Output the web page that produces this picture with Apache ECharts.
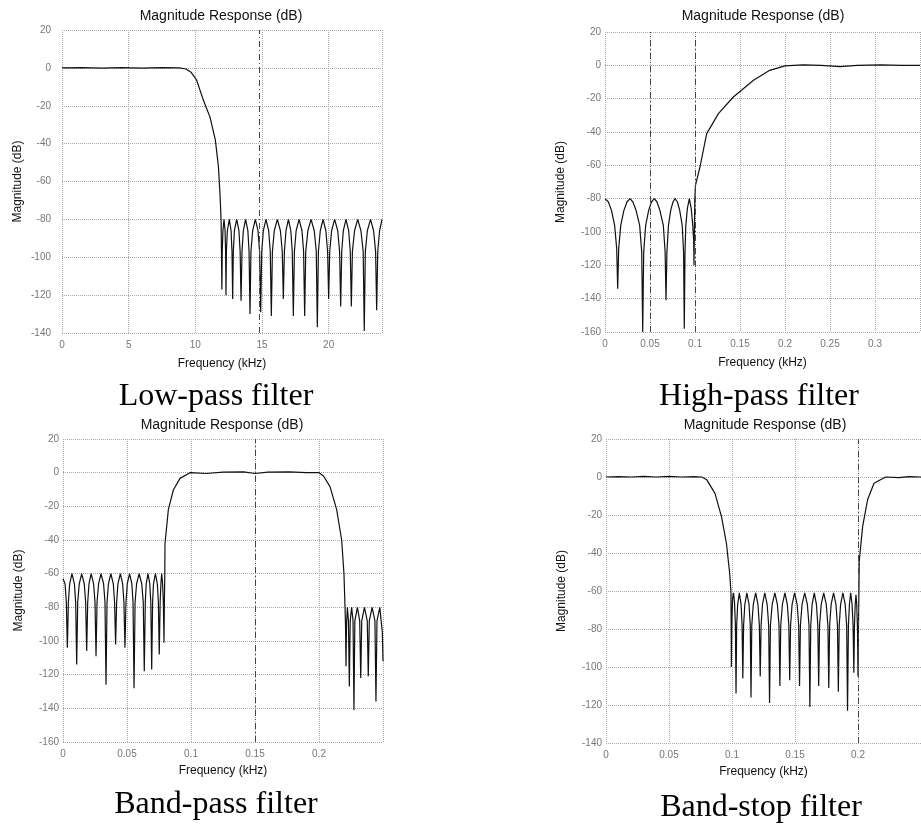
<!DOCTYPE html>
<html>
<head>
<meta charset="utf-8">
<title>Filter magnitude responses</title>
<script src="https://cdn.jsdelivr.net/npm/echarts@6/dist/echarts.min.js"></script>
<style>
  html, body { margin: 0; padding: 0; background: #fff; }
  #chart { width: 921px; height: 824px; }
</style>
</head>
<body>
<div id="chart"></div>
<script>
// Magnitude responses: [frequency (kHz), magnitude (dB)]
const lowPass = [
  [0,0],[1.5,0.1],[3,-0.1],[4.5,0.1],[6,-0.1],[7.5,0.1],[8.8,0],[9.3,-0.6],[9.7,-2.5],[10.1,-6.5],
  [10.6,-17],[11.1,-26],[11.5,-38],[11.73,-52],[11.86,-68],[11.93,-80],[11.96,-97],[11.99,-117],
  [12.02,-97],[12.07,-86],[12.15,-80],[12.23,-86],[12.27,-97],[12.3,-120],[12.33,-97],[12.4,-86],
  [12.55,-80],[12.68,-86],[12.75,-97],[12.8,-122],[12.85,-97],[12.93,-86],[13.1,-80],[13.27,-86],
  [13.36,-97],[13.43,-123],[13.5,-97],[13.6,-86],[13.77,-80],[13.94,-86],[14.03,-97],[14.1,-130],
  [14.17,-97],[14.3,-86],[14.5,-80],[14.7,-86],[14.82,-97],[14.9,-129],[14.98,-97],[15.1,-86],
  [15.3,-80],[15.5,-86],[15.62,-97],[15.7,-131],[15.78,-97],[15.92,-86],[16.15,-80],[16.38,-86],
  [16.52,-97],[16.6,-122],[16.68,-97],[16.8,-86],[16.98,-80],[17.16,-86],[17.27,-97],[17.35,-131],
  [17.43,-97],[17.56,-86],[17.78,-80],[18.0,-86],[18.12,-97],[18.2,-131],[18.28,-97],[18.44,-86],
  [18.68,-80],[18.92,-86],[19.07,-97],[19.15,-137],[19.23,-97],[19.37,-86],[19.58,-80],[19.79,-86],
  [19.92,-97],[20.0,-122],[20.08,-97],[20.22,-86],[20.45,-80],[20.68,-86],[20.82,-97],[20.9,-126],
  [20.98,-97],[21.1,-86],[21.3,-80],[21.5,-86],[21.62,-97],[21.7,-126],[21.78,-97],[21.94,-86],
  [22.18,-80],[22.42,-86],[22.59,-97],[22.67,-139],[22.75,-97],[22.9,-86],[23.14,-80],[23.37,-86],
  [23.52,-97],[23.6,-128],[23.68,-97],[23.82,-86],[24,-80]
];

const highPass = [
  [0,-80],[0.0038,-82],[0.0072,-87],[0.0107,-96],[0.013,-110],[0.0141,-134],[0.0152,-110],
  [0.0175,-96],[0.021,-87],[0.0244,-82],[0.0278,-80],[0.031,-82],[0.0345,-87],[0.0385,-96],
  [0.0408,-112],[0.0419,-160],[0.043,-112],[0.0452,-96],[0.0485,-87],[0.0516,-82],[0.0548,-80],
  [0.0578,-82],[0.061,-87],[0.0648,-96],[0.0668,-112],[0.0678,-141],[0.0688,-112],[0.0705,-96],
  [0.073,-87],[0.0755,-82],[0.0778,-80],[0.0805,-82],[0.083,-87],[0.0858,-96],[0.0873,-112],
  [0.0881,-158],[0.0889,-112],[0.0898,-96],[0.0915,-86],[0.0937,-80],[0.0958,-86],[0.0975,-96],
  [0.0985,-105],[0.0989,-120],[0.0993,-100],[0.0998,-80],[0.1005,-72],[0.1055,-61],[0.113,-41],
  [0.126,-29],[0.1426,-19],[0.165,-9],[0.183,-3],[0.2,-0.3],[0.22,0.3],[0.24,0],[0.261,-0.8],
  [0.28,0],[0.306,0.3],[0.33,0],[0.35,0]
];

const bandPass = [
  [0,-63],[0.0016,-66],[0.0026,-77],[0.0034,-104],[0.0042,-77],[0.0052,-66],[0.007,-60],
  [0.0089,-66],[0.0099,-77],[0.0107,-114],[0.0115,-77],[0.0127,-66],[0.0146,-60],[0.0166,-66],
  [0.0177,-77],[0.0185,-106],[0.0193,-77],[0.0203,-66],[0.022,-60],[0.0239,-66],[0.025,-77],
  [0.0258,-109],[0.0266,-77],[0.0278,-66],[0.0297,-60],[0.0317,-66],[0.0328,-77],[0.0336,-126],
  [0.0344,-77],[0.0355,-66],[0.0374,-60],[0.0393,-66],[0.0403,-77],[0.0411,-102],[0.0419,-77],
  [0.0429,-66],[0.0448,-60],[0.0466,-66],[0.0476,-77],[0.0484,-104],[0.0492,-77],[0.0502,-66],
  [0.052,-60],[0.0538,-66],[0.0547,-77],[0.0555,-128],[0.0563,-77],[0.0575,-66],[0.0595,-60],
  [0.0615,-66],[0.0627,-77],[0.0635,-118],[0.0643,-77],[0.065,-66],[0.0664,-60],[0.0678,-66],
  [0.0686,-77],[0.0693,-117],[0.07,-77],[0.0707,-66],[0.0722,-60],[0.0737,-66],[0.0745,-77],
  [0.0752,-108],[0.0759,-77],[0.0765,-66],[0.0771,-60],[0.0778,-66],[0.0784,-77],[0.0789,-101],
  [0.0792,-77],[0.0795,-62],[0.0797,-42],[0.0823,-22],[0.0862,-10.3],[0.0914,-3.4],[0.0992,0],
  [0.112,-0.5],[0.125,0.3],[0.141,0.5],[0.15,-0.5],[0.16,0.3],[0.177,0.5],[0.19,0],[0.2,0],
  [0.2035,-2],[0.2086,-8.3],[0.2138,-22],[0.2177,-40],[0.2195,-60],[0.2203,-79],[0.2207,-90],
  [0.2211,-115],[0.2215,-90],[0.2222,-80],[0.223,-88],[0.2237,-127],[0.2244,-88],[0.2255,-80],
  [0.2266,-88],[0.2273,-141],[0.228,-88],[0.23,-80],[0.2318,-88],[0.2326,-122],[0.2334,-88],
  [0.2355,-80],[0.2377,-88],[0.2385,-121],[0.2393,-88],[0.2415,-80],[0.2437,-88],[0.2445,-136],
  [0.2453,-88],[0.2475,-80],[0.2495,-95],[0.25,-112]
];

const bandStop = [
  [0,0],[0.01,0.2],[0.02,0],[0.03,0.3],[0.04,0],[0.05,0.3],[0.06,0],[0.07,0.2],[0.076,0],
  [0.08,-1.5],[0.0865,-8.6],[0.0917,-21],[0.0956,-35],[0.0982,-51],[0.0992,-61],[0.0995,-100],
  [0.0999,-75],[0.1005,-64],[0.1012,-61],[0.102,-66],[0.1027,-78],[0.1032,-114],[0.1037,-78],
  [0.1045,-67],[0.1058,-61],[0.1072,-67],[0.108,-78],[0.1086,-106],[0.1092,-78],[0.1102,-67],
  [0.1118,-61],[0.1135,-67],[0.1145,-78],[0.1151,-116],[0.1157,-78],[0.1169,-67],[0.1188,-61],
  [0.1206,-67],[0.1217,-78],[0.1224,-105],[0.1231,-78],[0.1242,-67],[0.126,-61],[0.1279,-67],
  [0.1291,-78],[0.1298,-119],[0.1305,-78],[0.1319,-67],[0.134,-61],[0.136,-67],[0.1373,-78],
  [0.138,-110],[0.1387,-78],[0.14,-67],[0.142,-61],[0.1439,-67],[0.1451,-78],[0.1458,-107],
  [0.1465,-78],[0.1477,-67],[0.1497,-61],[0.1517,-67],[0.1529,-78],[0.1536,-110],[0.1543,-78],
  [0.1556,-67],[0.1577,-61],[0.1598,-67],[0.1611,-78],[0.1618,-121],[0.1625,-78],[0.1636,-67],
  [0.1653,-61],[0.167,-67],[0.1681,-78],[0.1688,-110],[0.1695,-78],[0.1708,-67],[0.1728,-61],
  [0.1748,-67],[0.1761,-78],[0.1768,-111],[0.1775,-78],[0.1787,-67],[0.1806,-61],[0.1825,-67],
  [0.1837,-78],[0.1844,-113],[0.1851,-78],[0.1862,-67],[0.188,-61],[0.1898,-67],[0.191,-78],
  [0.1917,-123],[0.1924,-78],[0.1932,-67],[0.1942,-61],[0.1953,-67],[0.1961,-78],[0.1967,-103],
  [0.1972,-78],[0.1978,-67],[0.1984,-62],[0.199,-67],[0.1996,-80],[0.2,-105],[0.2004,-78],
  [0.201,-44],[0.2037,-26],[0.2076,-12],[0.2127,-3.3],[0.2219,0],[0.2323,-0.3],[0.24,0.2],[0.25,0]
];

// axis ranges [min, max, interval]
const xRanges = [[0, 24, 5], [0, 0.35, 0.05], [0, 0.25, 0.05], [0, 0.25, 0.05]];
const yRanges = [[-140, 20, 20], [-160, 20, 20], [-160, 20, 20], [-140, 20, 20]];
// dash-dot marker lines (kHz)
const markers = [[14.8], [0.05, 0.099], [0.15], [0.2]];
const captions = ['Low-pass filter', 'High-pass filter', 'Band-pass filter', 'Band-stop filter'];
const panelTitle = 'Magnitude Response (dB)';

const series = [lowPass, highPass, bandPass, bandStop];

const grids = [
  { left: 62, top: 30, width: 320, height: 303 },
  { left: 605, top: 32, width: 315, height: 300 },
  { left: 63, top: 439, width: 320, height: 303 },
  { left: 606, top: 439, width: 320, height: 304 }
];
const yLabelMargin = [11, 4, 4, 4];
const titlePos = [[221, 16], [763, 16], [222, 425], [765, 425]];
const captionPos = [[216, 397], [759, 397], [216, 805], [761, 808]];

const sans = '"Liberation Sans", Arial, sans-serif';
const gridLine = { lineStyle: { type: 'dotted', color: '#a8a8a8', width: 1 } };

const chart = echarts.init(document.getElementById('chart'), null, { renderer: 'canvas' });

const graphic = [];
titlePos.forEach(function (p) {
  graphic.push({
    type: 'text', x: p[0], y: p[1],
    style: { text: panelTitle, font: '14px ' + sans, fill: '#111', align: 'center', verticalAlign: 'middle' }
  });
});
captionPos.forEach(function (p, i) {
  graphic.push({
    type: 'text', x: p[0], y: p[1],
    style: { text: captions[i], font: '32px "Liberation Serif", "Times New Roman", serif', fill: '#000', align: 'center', verticalAlign: 'middle' }
  });
});

chart.setOption({
  animation: false,
  backgroundColor: '#fff',
  grid: grids.map(g => Object.assign({ containLabel: false }, g)),
  xAxis: xRanges.map((r, i) => ({
    type: 'value',
    gridIndex: i,
    min: r[0], max: r[1], interval: r[2],
    name: 'Frequency (kHz)',
    nameLocation: 'middle',
    nameGap: i < 2 ? 25 : 23,
    nameTextStyle: { fontSize: 12, color: '#111', fontFamily: sans },
    axisLine: { show: false },
    axisTick: { show: false },
    axisLabel: { color: '#777', fontSize: 10, fontFamily: sans, margin: 7, showMaxLabel: false },
    splitLine: gridLine
  })),
  yAxis: yRanges.map((r, i) => ({
    type: 'value',
    gridIndex: i,
    min: r[0], max: r[1], interval: r[2],
    name: 'Magnitude (dB)',
    nameLocation: 'middle',
    nameGap: 38,
    nameTextStyle: { fontSize: 12, color: '#111', fontFamily: sans },
    axisLine: { show: false },
    axisTick: { show: false },
    axisLabel: { color: '#777', fontSize: 10, fontFamily: sans, margin: yLabelMargin[i] },
    splitLine: gridLine
  })),
  series: series.map((d, i) => ({
    type: 'line',
    xAxisIndex: i,
    yAxisIndex: i,
    data: d,
    symbol: 'none',
    lineStyle: { color: '#111', width: 1.2 },
    markLine: {
      silent: true,
      symbol: 'none',
      label: { show: false },
      lineStyle: { type: [6, 3, 1, 3], color: '#444', width: 1 },
      data: markers[i].map(x => ({ xAxis: x }))
    }
  })),
  graphic: graphic
});
</script>
</body>
</html>
